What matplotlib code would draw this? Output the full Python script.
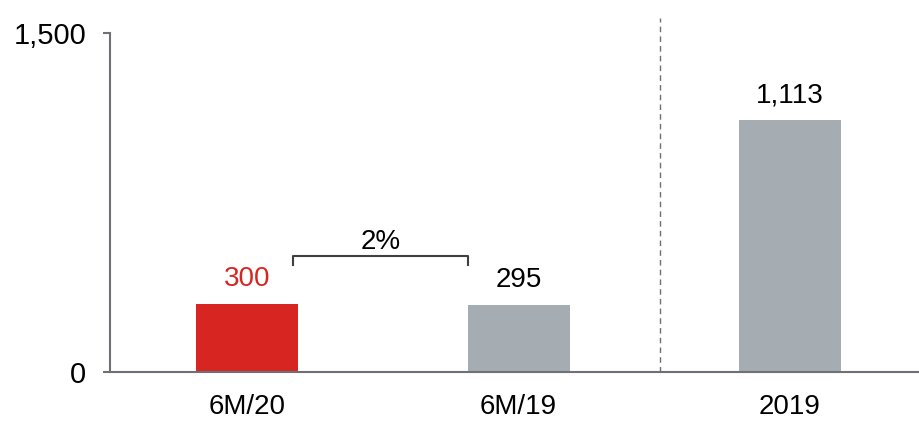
import matplotlib
matplotlib.use("Agg")
import matplotlib.pyplot as plt

categories = ["6M/20", "6M/19", "2019"]
values = [300, 295, 1113]
labels = ["300", "295", "1,113"]
colors = ["#D72622", "#A5ACB2", "#A5ACB2"]
label_colors = ["#D72622", "#000000", "#000000"]
yticks = [0, 1500]
ytick_labels = ["0", "1,500"]
growth_label = "2%"

plt.rcParams['font.family'] = ['Liberation Sans', 'DejaVu Sans']

fig = plt.figure(figsize=(9.19, 4.22), dpi=100)
ax = fig.add_axes([110/919, 50/422, 1 - 110/919, 339/422])

x = list(range(len(categories)))
ax.bar(x, values, width=0.376, color=colors, zorder=2)
for xi, v, lab, c in zip(x, values, labels, label_colors):
    ax.text(xi, v + 112, lab, ha="center", va="center", fontsize=20, color=c)

ax.set_xlim(-0.505, 2.475)
ax.set_ylim(0, 1500)
ax.set_xticks(x)
ax.set_xticklabels(categories, fontsize=20)
ax.set_yticks(yticks)
ax.set_yticklabels(ytick_labels, fontsize=21)
ax.tick_params(axis="x", length=0, pad=16)
ax.tick_params(axis="y", length=5, width=1.5, color="#6E7075", pad=12)

for s in ["top", "right"]:
    ax.spines[s].set_visible(False)
for s in ["left", "bottom"]:
    ax.spines[s].set_color("#6E7075")
    ax.spines[s].set_linewidth(1.5)
ax.spines["bottom"].set_zorder(3)

# separator
ax.plot([1.521, 1.521], [0, 1568], ls=(0, (4, 3)), color="#6E7075", lw=1, clip_on=False)

# growth bracket
bx0, bx1 = 0.169, 0.814
ax.plot([bx0, bx0, bx1, bx1], [473, 513, 513, 473], color="#404040", lw=1.5, clip_on=False)
ax.text((bx0 + bx1) / 2, 577, growth_label, ha="center", va="center", fontsize=20)

fig.savefig("out.png", dpi=100)
